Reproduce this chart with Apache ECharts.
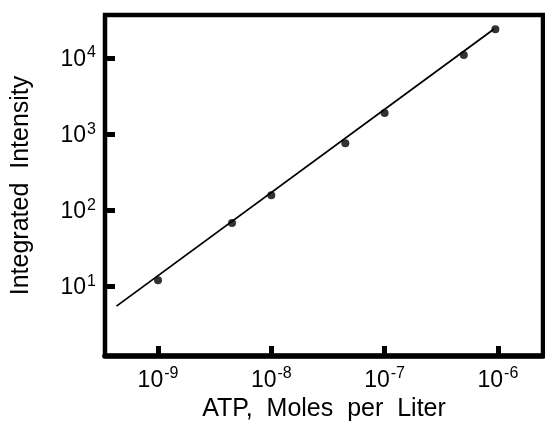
<!DOCTYPE html>
<html>
<head>
<meta charset="utf-8">
<script src="https://cdn.jsdelivr.net/npm/echarts@6/dist/echarts.min.js"></script>
<style>
html,body{margin:0;padding:0;background:#fff;}
#chart{width:545px;height:428px;}
</style>
</head>
<body>
<div id="chart"></div>
<script>
// Data (moles per liter vs integrated intensity)
var concentrations = [1e-9, 4.5e-9, 1e-8, 4.5e-8, 1e-7, 5e-7, 9.5e-7];
var intensities = [12, 68, 158, 760, 1900, 11000, 24000];
// Fitted line end points
var fitConc = [4.3e-10, 9.25e-7];
var fitIntensity = [5.5, 24100];
// Tick exponents
var xTickExponents = [-9, -8, -7, -6];
var yTickExponents = [1, 2, 3, 4];

var FONT = 'Liberation Sans, Arial, sans-serif';
var lg = Math.log10;

function pairs(xs, ys) {
  return xs.map(function (x, i) { return [lg(x), lg(ys[i])]; });
}

function labelFmt(v) {
  var e = Math.round(v);
  return '{b|10}{s|' + e + '}';
}

var richStyle = {
  b: { fontSize: 23, fontFamily: FONT, color: '#000', lineHeight: 26, verticalAlign: 'bottom' },
  s: { fontSize: 16, fontFamily: FONT, color: '#000', lineHeight: 26, verticalAlign: 'top', padding: [0, 0, 0, 1] }
};

var chart = echarts.init(document.getElementById('chart'));
chart.setOption({
  animation: false,
  grid: {
    left: 105, right: 2, top: 15, bottom: 72,
    show: true, borderColor: '#000', borderWidth: 4.5, backgroundColor: 'transparent'
  },
  xAxis: {
    type: 'value',
    min: -9.468, max: -5.602,
    name: 'ATP,  Moles  per  Liter',
    nameLocation: 'middle',
    nameGap: 39,
    nameTextStyle: { fontSize: 25, fontFamily: FONT, color: '#000' },
    axisLine: { show: true, lineStyle: { color: '#000', width: 5.5 } },
    axisTick: { show: true, inside: true, length: 10, customValues: xTickExponents, lineStyle: { color: '#000', width: 5 } },
    axisLabel: { show: true, customValues: xTickExponents, formatter: labelFmt, rich: richStyle, margin: 10 },
    splitLine: { show: false }
  },
  yAxis: {
    type: 'value',
    min: 0.085, max: 4.566,
    name: 'Integrated  Intensity',
    nameLocation: 'middle',
    nameGap: 71,
    nameTextStyle: { fontSize: 25, fontFamily: FONT, color: '#000' },
    axisLine: { show: true, lineStyle: { color: '#000', width: 4 } },
    axisTick: { show: true, inside: true, length: 10, customValues: yTickExponents, lineStyle: { color: '#000', width: 5 } },
    axisLabel: { show: true, customValues: yTickExponents, formatter: labelFmt, rich: richStyle, margin: 9 },
    splitLine: { show: false }
  },
  series: [
    {
      type: 'line',
      data: pairs(fitConc, fitIntensity),
      symbol: 'none',
      lineStyle: { color: '#000', width: 1.8 },
      silent: true
    },
    {
      type: 'scatter',
      data: pairs(concentrations, intensities),
      symbol: 'circle',
      symbolSize: 8,
      itemStyle: { color: '#000' }
    }
  ]
});
</script>
</body>
</html>
